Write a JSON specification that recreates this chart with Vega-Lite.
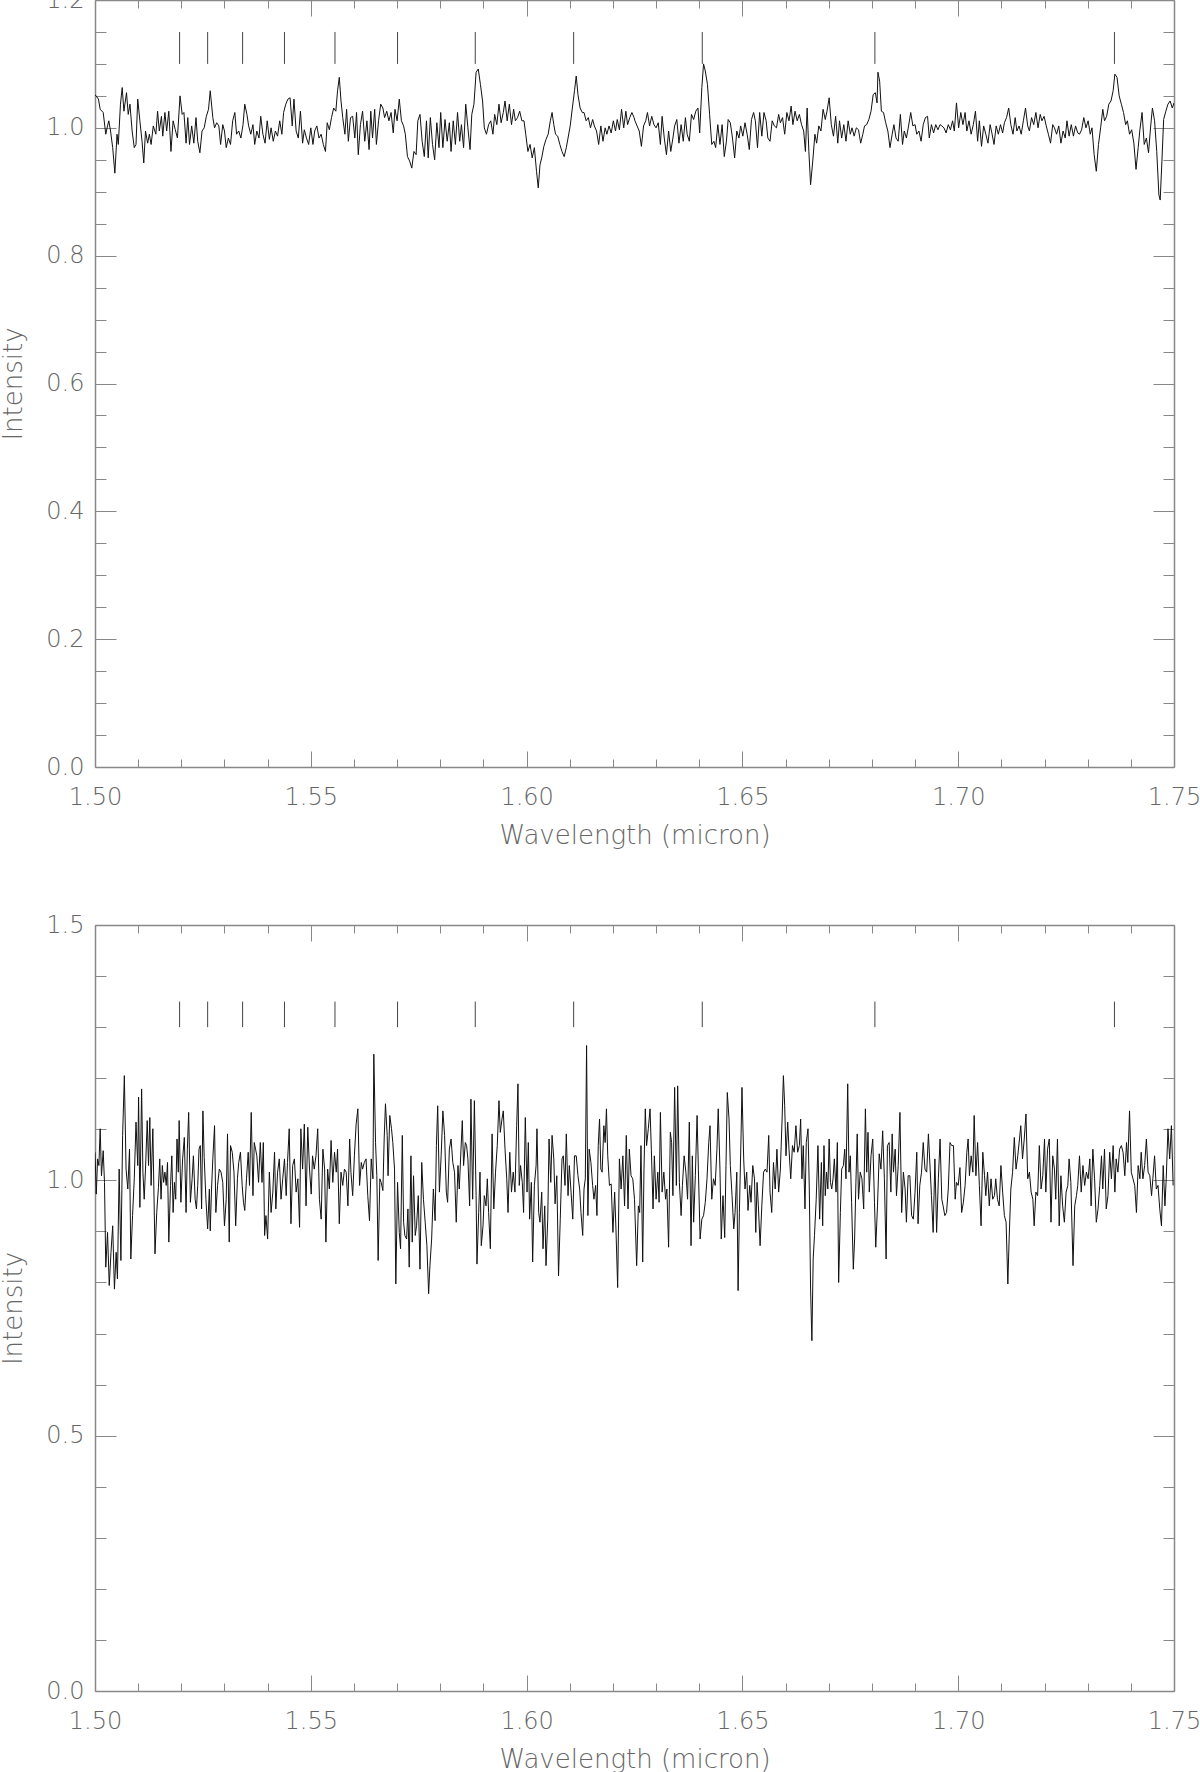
{
"$schema": "https://vega.github.io/schema/vega-lite/v6.json",
"padding": {"left": 0, "top": -12, "right": 0, "bottom": 0},
"spacing": 65,
"config": {
  "view": {"stroke": null},
  "font": "DejaVu Sans",
  "axis": {"grid": false, "domainColor": "#888", "domainWidth": 1.5, "tickColor": "#888", "tickWidth": 1, "labelColor": "#666", "labelFont": "DejaVu Sans", "labelFontWeight": 200, "labelFontSize": 24, "titleColor": "#666", "titleFont": "DejaVu Sans", "titleFontWeight": 200, "titleFontSize": 26, "labelFlush": false, "labelOverlap": false, "labelBound": false}
},
"datasets": {
"lines": [{"w":1.5196},{"w":1.5261},{"w":1.5342},{"w":1.5439},{"w":1.5556},{"w":1.5701},{"w":1.5881},{"w":1.6109},{"w":1.6407},{"w":1.6807},{"w":1.7362}],
"top": [
{"w":1.5000,"f":1.052},{"w":1.5008,"f":1.045},{"w":1.5012,"f":1.029},{"w":1.5019,"f":1.024},{"w":1.5025,"f":0.990},{"w":1.5029,"f":1.003},{"w":1.5032,"f":1.011},{"w":1.5036,"f":0.995},{"w":1.5041,"f":0.969},{"w":1.5046,"f":0.929},{"w":1.5051,"f":0.990},{"w":1.5054,"f":0.974},{"w":1.5059,"f":1.037},{"w":1.5063,"f":1.063},{"w":1.5067,"f":1.026},{"w":1.5073,"f":1.055},{"w":1.5077,"f":1.021},{"w":1.5081,"f":1.037},{"w":1.5086,"f":0.995},{"w":1.5091,"f":0.969},{"w":1.5095,"f":0.974},{"w":1.5099,"f":1.045},{"w":1.5104,"f":1.011},{"w":1.5109,"f":0.979},{"w":1.5113,"f":0.945},{"w":1.5117,"f":0.995},{"w":1.5122,"f":0.976},{"w":1.5126,"f":0.990},{"w":1.5130,"f":0.974},{"w":1.5135,"f":1.003},{"w":1.5141,"f":0.990},{"w":1.5145,"f":1.026},{"w":1.5149,"f":0.995},{"w":1.5154,"f":1.018},{"w":1.5157,"f":0.987},{"w":1.5162,"f":1.024},{"w":1.5166,"f":0.995},{"w":1.5171,"f":1.026},{"w":1.5176,"f":0.963},{"w":1.5181,"f":1.011},{"w":1.5186,"f":0.997},{"w":1.5191,"f":0.984},{"w":1.5197,"f":1.050},{"w":1.5202,"f":1.021},{"w":1.5206,"f":1.024},{"w":1.5211,"f":0.976},{"w":1.5215,"f":1.016},{"w":1.5219,"f":0.974},{"w":1.5224,"f":1.003},{"w":1.5229,"f":0.976},{"w":1.5234,"f":1.016},{"w":1.5238,"f":0.979},{"w":1.5243,"f":0.961},{"w":1.5248,"f":0.995},{"w":1.5253,"f":1.000},{"w":1.5258,"f":1.018},{"w":1.5263,"f":1.029},{"w":1.5267,"f":1.058},{"w":1.5273,"f":1.016},{"w":1.5277,"f":1.000},{"w":1.5282,"f":1.008},{"w":1.5287,"f":1.003},{"w":1.5291,"f":0.974},{"w":1.5296,"f":1.005},{"w":1.5300,"f":0.995},{"w":1.5304,"f":0.969},{"w":1.5309,"f":0.984},{"w":1.5314,"f":0.974},{"w":1.5319,"f":1.011},{"w":1.5324,"f":1.024},{"w":1.5328,"f":0.990},{"w":1.5333,"f":0.995},{"w":1.5338,"f":0.984},{"w":1.5343,"f":1.005},{"w":1.5347,"f":1.037},{"w":1.5352,"f":1.021},{"w":1.5356,"f":1.003},{"w":1.5361,"f":0.990},{"w":1.5366,"f":1.005},{"w":1.5370,"f":0.974},{"w":1.5375,"f":0.995},{"w":1.5380,"f":0.984},{"w":1.5384,"f":1.018},{"w":1.5389,"f":0.990},{"w":1.5394,"f":0.976},{"w":1.5399,"f":1.011},{"w":1.5404,"f":0.982},{"w":1.5408,"f":1.000},{"w":1.5413,"f":0.979},{"w":1.5418,"f":0.995},{"w":1.5423,"f":0.987},{"w":1.5428,"f":1.011},{"w":1.5433,"f":0.990},{"w":1.5437,"f":1.024},{"w":1.5442,"f":1.037},{"w":1.5447,"f":1.045},{"w":1.5452,"f":1.047},{"w":1.5457,"f":1.003},{"w":1.5461,"f":1.045},{"w":1.5466,"f":0.995},{"w":1.5471,"f":0.984},{"w":1.5476,"f":1.026},{"w":1.5481,"f":0.976},{"w":1.5485,"f":0.997},{"w":1.5490,"f":0.984},{"w":1.5495,"f":0.974},{"w":1.5500,"f":1.000},{"w":1.5505,"f":0.974},{"w":1.5509,"f":0.995},{"w":1.5514,"f":1.003},{"w":1.5519,"f":0.984},{"w":1.5524,"f":0.990},{"w":1.5529,"f":0.974},{"w":1.5534,"f":0.963},{"w":1.5538,"f":1.008},{"w":1.5543,"f":0.997},{"w":1.5548,"f":1.016},{"w":1.5553,"f":1.031},{"w":1.5558,"f":1.026},{"w":1.5562,"f":1.058},{"w":1.5566,"f":1.079},{"w":1.5570,"f":1.042},{"w":1.5574,"f":1.016},{"w":1.5579,"f":0.990},{"w":1.5583,"f":1.029},{"w":1.5587,"f":0.979},{"w":1.5592,"f":1.016},{"w":1.5597,"f":1.018},{"w":1.5602,"f":0.984},{"w":1.5606,"f":1.024},{"w":1.5610,"f":0.958},{"w":1.5615,"f":1.005},{"w":1.5620,"f":1.026},{"w":1.5625,"f":0.979},{"w":1.5630,"f":1.011},{"w":1.5635,"f":0.966},{"w":1.5639,"f":1.026},{"w":1.5643,"f":0.984},{"w":1.5648,"f":1.029},{"w":1.5652,"f":0.974},{"w":1.5657,"f":1.011},{"w":1.5662,"f":1.037},{"w":1.5667,"f":1.031},{"w":1.5671,"f":1.016},{"w":1.5676,"f":1.026},{"w":1.5681,"f":1.011},{"w":1.5686,"f":1.024},{"w":1.5691,"f":0.992},{"w":1.5695,"f":1.029},{"w":1.5700,"f":1.011},{"w":1.5705,"f":1.045},{"w":1.5710,"f":1.011},{"w":1.5715,"f":1.003},{"w":1.5719,"f":0.990},{"w":1.5724,"f":0.955},{"w":1.5729,"f":0.948},{"w":1.5734,"f":0.937},{"w":1.5739,"f":0.963},{"w":1.5744,"f":0.958},{"w":1.5748,"f":1.011},{"w":1.5753,"f":1.021},{"w":1.5758,"f":0.979},{"w":1.5763,"f":0.955},{"w":1.5768,"f":1.011},{"w":1.5772,"f":0.953},{"w":1.5777,"f":1.016},{"w":1.5782,"f":0.974},{"w":1.5787,"f":0.950},{"w":1.5792,"f":1.008},{"w":1.5797,"f":0.969},{"w":1.5801,"f":1.024},{"w":1.5806,"f":0.969},{"w":1.5811,"f":1.013},{"w":1.5816,"f":0.979},{"w":1.5821,"f":1.008},{"w":1.5825,"f":0.963},{"w":1.5830,"f":1.011},{"w":1.5835,"f":0.974},{"w":1.5840,"f":1.024},{"w":1.5845,"f":0.979},{"w":1.5849,"f":1.005},{"w":1.5854,"f":0.969},{"w":1.5859,"f":1.037},{"w":1.5864,"f":1.000},{"w":1.5869,"f":0.966},{"w":1.5873,"f":1.021},{"w":1.5878,"f":1.037},{"w":1.5883,"f":1.087},{"w":1.5888,"f":1.092},{"w":1.5893,"f":1.068},{"w":1.5898,"f":1.042},{"w":1.5902,"f":1.000},{"w":1.5907,"f":0.990},{"w":1.5912,"f":1.005},{"w":1.5917,"f":1.011},{"w":1.5922,"f":0.990},{"w":1.5926,"f":1.021},{"w":1.5931,"f":1.005},{"w":1.5936,"f":1.037},{"w":1.5941,"f":1.008},{"w":1.5946,"f":1.024},{"w":1.5950,"f":1.042},{"w":1.5955,"f":1.011},{"w":1.5960,"f":1.037},{"w":1.5965,"f":1.005},{"w":1.5970,"f":1.029},{"w":1.5974,"f":1.011},{"w":1.5979,"f":1.016},{"w":1.5984,"f":1.026},{"w":1.5989,"f":1.011},{"w":1.5994,"f":1.011},{"w":1.5998,"f":0.990},{"w":1.6003,"f":0.963},{"w":1.6008,"f":0.974},{"w":1.6013,"f":0.953},{"w":1.6018,"f":0.969},{"w":1.6023,"f":0.932},{"w":1.6027,"f":0.906},{"w":1.6031,"f":0.942},{"w":1.6035,"f":0.953},{"w":1.6040,"f":0.971},{"w":1.6045,"f":0.982},{"w":1.6050,"f":0.990},{"w":1.6055,"f":1.011},{"w":1.6059,"f":1.024},{"w":1.6063,"f":1.005},{"w":1.6067,"f":0.990},{"w":1.6072,"f":0.987},{"w":1.6077,"f":0.974},{"w":1.6082,"f":0.963},{"w":1.6087,"f":0.955},{"w":1.6092,"f":0.969},{"w":1.6096,"f":0.984},{"w":1.6101,"f":1.003},{"w":1.6106,"f":1.031},{"w":1.6111,"f":1.058},{"w":1.6115,"f":1.081},{"w":1.6119,"f":1.052},{"w":1.6124,"f":1.031},{"w":1.6129,"f":1.024},{"w":1.6133,"f":1.024},{"w":1.6138,"f":1.011},{"w":1.6143,"f":1.016},{"w":1.6148,"f":1.000},{"w":1.6153,"f":1.013},{"w":1.6157,"f":1.003},{"w":1.6162,"f":0.995},{"w":1.6167,"f":0.974},{"w":1.6172,"f":1.003},{"w":1.6177,"f":0.979},{"w":1.6182,"f":1.000},{"w":1.6186,"f":0.990},{"w":1.6191,"f":1.003},{"w":1.6196,"f":0.992},{"w":1.6201,"f":1.011},{"w":1.6206,"f":0.995},{"w":1.6210,"f":1.013},{"w":1.6215,"f":0.997},{"w":1.6220,"f":1.029},{"w":1.6225,"f":1.000},{"w":1.6230,"f":1.026},{"w":1.6234,"f":1.005},{"w":1.6239,"f":1.016},{"w":1.6244,"f":1.024},{"w":1.6249,"f":1.016},
{"w":1.6251,"f":1.011},{"w":1.6256,"f":1.003},{"w":1.6261,"f":0.995},{"w":1.6266,"f":0.971},{"w":1.6271,"f":1.003},{"w":1.6276,"f":1.011},{"w":1.6280,"f":1.024},{"w":1.6285,"f":1.003},{"w":1.6290,"f":1.018},{"w":1.6295,"f":1.005},{"w":1.6300,"f":1.000},{"w":1.6305,"f":1.008},{"w":1.6310,"f":0.974},{"w":1.6314,"f":1.018},{"w":1.6319,"f":0.984},{"w":1.6324,"f":0.958},{"w":1.6329,"f":0.995},{"w":1.6334,"f":0.963},{"w":1.6339,"f":0.984},{"w":1.6343,"f":1.003},{"w":1.6348,"f":1.013},{"w":1.6353,"f":0.976},{"w":1.6358,"f":1.005},{"w":1.6363,"f":0.979},{"w":1.6368,"f":1.016},{"w":1.6372,"f":0.990},{"w":1.6377,"f":0.979},{"w":1.6382,"f":1.021},{"w":1.6387,"f":1.013},{"w":1.6392,"f":1.026},{"w":1.6397,"f":1.031},{"w":1.6401,"f":0.992},{"w":1.6406,"f":1.063},{"w":1.6410,"f":1.100},{"w":1.6414,"f":1.089},{"w":1.6419,"f":1.068},{"w":1.6424,"f":1.021},{"w":1.6429,"f":0.974},{"w":1.6434,"f":0.979},{"w":1.6438,"f":0.969},{"w":1.6443,"f":1.005},{"w":1.6448,"f":0.974},{"w":1.6453,"f":1.005},{"w":1.6458,"f":0.955},{"w":1.6463,"f":0.979},{"w":1.6467,"f":1.013},{"w":1.6472,"f":1.008},{"w":1.6477,"f":0.984},{"w":1.6482,"f":0.953},{"w":1.6487,"f":0.995},{"w":1.6492,"f":0.984},{"w":1.6496,"f":1.003},{"w":1.6501,"f":0.987},{"w":1.6506,"f":1.008},{"w":1.6511,"f":0.990},{"w":1.6516,"f":0.966},{"w":1.6521,"f":1.013},{"w":1.6526,"f":1.024},{"w":1.6530,"f":1.011},{"w":1.6535,"f":0.969},{"w":1.6540,"f":1.024},{"w":1.6545,"f":0.987},{"w":1.6550,"f":1.024},{"w":1.6555,"f":1.011},{"w":1.6559,"f":0.984},{"w":1.6564,"f":0.979},{"w":1.6569,"f":1.011},{"w":1.6574,"f":1.003},{"w":1.6579,"f":1.000},{"w":1.6584,"f":1.021},{"w":1.6588,"f":1.008},{"w":1.6593,"f":1.016},{"w":1.6598,"f":0.990},{"w":1.6603,"f":1.024},{"w":1.6608,"f":1.011},{"w":1.6613,"f":1.034},{"w":1.6617,"f":1.005},{"w":1.6622,"f":1.026},{"w":1.6627,"f":1.011},{"w":1.6632,"f":1.021},{"w":1.6637,"f":1.005},{"w":1.6642,"f":0.995},{"w":1.6646,"f":0.963},{"w":1.6650,"f":1.031},{"w":1.6654,"f":0.963},{"w":1.6658,"f":0.911},{"w":1.6663,"f":0.948},{"w":1.6668,"f":0.990},{"w":1.6672,"f":0.976},{"w":1.6677,"f":1.003},{"w":1.6682,"f":0.995},{"w":1.6687,"f":1.029},{"w":1.6692,"f":1.013},{"w":1.6696,"f":1.026},{"w":1.6701,"f":1.047},{"w":1.6706,"f":1.005},{"w":1.6711,"f":0.987},{"w":1.6716,"f":1.018},{"w":1.6721,"f":0.976},{"w":1.6725,"f":1.011},{"w":1.6730,"f":0.984},{"w":1.6735,"f":1.005},{"w":1.6740,"f":0.979},{"w":1.6745,"f":1.011},{"w":1.6750,"f":0.990},{"w":1.6754,"f":1.000},{"w":1.6759,"f":0.987},{"w":1.6764,"f":1.000},{"w":1.6769,"f":0.997},{"w":1.6774,"f":0.976},{"w":1.6779,"f":0.990},{"w":1.6783,"f":1.003},{"w":1.6788,"f":1.005},{"w":1.6793,"f":1.013},{"w":1.6798,"f":1.026},{"w":1.6803,"f":1.052},{"w":1.6808,"f":1.055},{"w":1.6812,"f":1.039},{"w":1.6814,"f":1.087},{"w":1.6818,"f":1.073},{"w":1.6822,"f":1.026},{"w":1.6827,"f":1.024},{"w":1.6832,"f":1.008},{"w":1.6837,"f":0.995},{"w":1.6842,"f":0.969},{"w":1.6847,"f":0.990},{"w":1.6851,"f":1.005},{"w":1.6856,"f":0.984},{"w":1.6861,"f":0.979},{"w":1.6866,"f":1.021},{"w":1.6871,"f":0.974},{"w":1.6875,"f":0.995},{"w":1.6880,"f":0.984},{"w":1.6885,"f":1.003},{"w":1.6890,"f":1.024},{"w":1.6895,"f":1.003},{"w":1.6900,"f":1.005},{"w":1.6904,"f":0.990},{"w":1.6909,"f":0.995},{"w":1.6914,"f":0.979},{"w":1.6919,"f":1.005},{"w":1.6924,"f":1.016},{"w":1.6929,"f":1.018},{"w":1.6933,"f":0.984},{"w":1.6938,"f":1.005},{"w":1.6943,"f":0.992},{"w":1.6948,"f":1.005},{"w":1.6953,"f":0.997},{"w":1.6958,"f":1.005},{"w":1.6962,"f":1.003},{"w":1.6967,"f":1.000},{"w":1.6972,"f":0.992},{"w":1.6977,"f":1.005},{"w":1.6982,"f":0.997},{"w":1.6987,"f":1.011},{"w":1.6991,"f":0.995},{"w":1.6996,"f":1.039},{"w":1.7001,"f":1.000},{"w":1.7006,"f":1.024},{"w":1.7011,"f":1.005},{"w":1.7016,"f":1.024},{"w":1.7020,"f":0.995},{"w":1.7025,"f":1.011},{"w":1.7030,"f":0.990},{"w":1.7035,"f":1.005},{"w":1.7040,"f":1.026},{"w":1.7045,"f":0.979},{"w":1.7049,"f":1.011},{"w":1.7054,"f":0.971},{"w":1.7059,"f":1.003},{"w":1.7064,"f":0.990},{"w":1.7069,"f":0.976},{"w":1.7074,"f":1.005},{"w":1.7078,"f":0.992},{"w":1.7083,"f":0.974},{"w":1.7088,"f":1.003},{"w":1.7093,"f":0.990},{"w":1.7098,"f":1.005},{"w":1.7103,"f":0.992},{"w":1.7107,"f":1.008},{"w":1.7112,"f":1.016},{"w":1.7117,"f":1.031},{"w":1.7122,"f":1.005},{"w":1.7127,"f":0.990},{"w":1.7132,"f":1.016},{"w":1.7136,"f":0.995},{"w":1.7141,"f":1.003},{"w":1.7146,"f":0.990},{"w":1.7151,"f":1.011},{"w":1.7156,"f":1.031},{"w":1.7161,"f":1.003},{"w":1.7165,"f":0.995},{"w":1.7170,"f":1.016},{"w":1.7175,"f":1.005},{"w":1.7180,"f":1.024},{"w":1.7185,"f":1.000},{"w":1.7190,"f":1.021},{"w":1.7194,"f":1.011},{"w":1.7199,"f":1.018},{"w":1.7204,"f":1.003},{"w":1.7209,"f":0.990},{"w":1.7214,"f":0.976},{"w":1.7219,"f":1.005},{"w":1.7223,"f":1.000},{"w":1.7228,"f":0.990},{"w":1.7233,"f":1.003},{"w":1.7238,"f":0.976},{"w":1.7243,"f":0.995},{"w":1.7248,"f":0.984},{"w":1.7252,"f":1.011},{"w":1.7257,"f":0.987},{"w":1.7262,"f":1.005},{"w":1.7267,"f":0.987},{"w":1.7272,"f":1.003},{"w":1.7277,"f":0.992},{"w":1.7281,"f":0.990},{"w":1.7286,"f":0.997},{"w":1.7291,"f":1.016},{"w":1.7296,"f":1.000},{"w":1.7301,"f":1.011},{"w":1.7306,"f":0.990},{"w":1.7310,"f":1.000},{"w":1.7315,"f":0.958},{"w":1.7320,"f":0.932},{"w":1.7325,"f":0.974},{"w":1.7330,"f":1.000},{"w":1.7335,"f":1.029},{"w":1.7339,"f":1.011},{"w":1.7344,"f":1.018},{"w":1.7349,"f":1.037},{"w":1.7354,"f":1.042},{"w":1.7359,"f":1.058},{"w":1.7363,"f":1.084},{"w":1.7368,"f":1.079},{"w":1.7373,"f":1.050},{"w":1.7378,"f":1.037},{"w":1.7383,"f":1.024},{"w":1.7388,"f":1.005},{"w":1.7392,"f":1.011},{"w":1.7397,"f":0.990},{"w":1.7402,"f":0.997},{"w":1.7407,"f":0.976},{"w":1.7412,"f":0.935},{"w":1.7417,"f":0.969},{"w":1.7421,"f":0.997},{"w":1.7426,"f":1.024},{"w":1.7431,"f":0.974},{"w":1.7436,"f":0.984},{"w":1.7441,"f":0.961},{"w":1.7446,"f":1.003},{"w":1.7450,"f":1.031},{"w":1.7455,"f":1.011},{"w":1.7460,"f":0.963},{"w":1.7465,"f":0.895},{"w":1.7468,"f":0.887},{"w":1.7472,"f":0.948},{"w":1.7476,"f":1.013},{"w":1.7481,"f":1.026},{"w":1.7486,"f":1.037},{"w":1.7491,"f":1.042},{"w":1.7496,"f":1.031},{"w":1.7500,"f":1.039}
],
"bot": [
{"w":1.5000,"f":1.055},{"w":1.5003,"f":0.973},{"w":1.5006,"f":1.042},{"w":1.5009,"f":1.029},{"w":1.5012,"f":1.101},{"w":1.5015,"f":1.009},{"w":1.5019,"f":1.058},{"w":1.5022,"f":0.996},{"w":1.5025,"f":0.830},{"w":1.5029,"f":0.898},{"w":1.5033,"f":0.794},{"w":1.5037,"f":0.859},{"w":1.5041,"f":0.911},{"w":1.5045,"f":0.787},{"w":1.5049,"f":0.859},{"w":1.5052,"f":0.807},{"w":1.5056,"f":1.022},{"w":1.5060,"f":0.843},{"w":1.5064,"f":1.088},{"w":1.5068,"f":1.205},{"w":1.5072,"f":1.022},{"w":1.5076,"f":0.983},{"w":1.5080,"f":1.061},{"w":1.5083,"f":0.846},{"w":1.5087,"f":0.931},{"w":1.5091,"f":1.003},{"w":1.5095,"f":1.114},{"w":1.5099,"f":1.029},{"w":1.5101,"f":1.163},{"w":1.5104,"f":0.947},{"w":1.5108,"f":1.179},{"w":1.5111,"f":1.016},{"w":1.5114,"f":0.963},{"w":1.5117,"f":1.022},{"w":1.5121,"f":1.117},{"w":1.5124,"f":1.029},{"w":1.5127,"f":1.123},{"w":1.5130,"f":0.990},{"w":1.5134,"f":1.101},{"w":1.5139,"f":0.856},{"w":1.5143,"f":0.937},{"w":1.5147,"f":0.986},{"w":1.5150,"f":1.042},{"w":1.5153,"f":0.963},{"w":1.5156,"f":1.029},{"w":1.5159,"f":0.996},{"w":1.5162,"f":1.016},{"w":1.5165,"f":0.990},{"w":1.5168,"f":1.035},{"w":1.5171,"f":0.879},{"w":1.5175,"f":0.990},{"w":1.5178,"f":1.048},{"w":1.5181,"f":0.937},{"w":1.5184,"f":0.996},{"w":1.5187,"f":0.963},{"w":1.5190,"f":1.081},{"w":1.5193,"f":1.016},{"w":1.5195,"f":1.117},{"w":1.5199,"f":0.957},{"w":1.5203,"f":1.042},{"w":1.5207,"f":1.084},{"w":1.5211,"f":0.937},{"w":1.5214,"f":1.061},{"w":1.5217,"f":1.133},{"w":1.5221,"f":0.957},{"w":1.5225,"f":1.003},{"w":1.5228,"f":1.048},{"w":1.5232,"f":0.963},{"w":1.5235,"f":0.944},{"w":1.5238,"f":0.990},{"w":1.5241,"f":1.061},{"w":1.5244,"f":1.068},{"w":1.5247,"f":0.944},{"w":1.5250,"f":1.136},{"w":1.5253,"f":1.045},{"w":1.5257,"f":0.963},{"w":1.5261,"f":0.905},{"w":1.5265,"f":0.983},{"w":1.5267,"f":0.901},{"w":1.5270,"f":0.983},{"w":1.5273,"f":1.042},{"w":1.5277,"f":1.107},{"w":1.5280,"f":0.937},{"w":1.5284,"f":0.990},{"w":1.5288,"f":1.022},{"w":1.5292,"f":1.016},{"w":1.5296,"f":0.996},{"w":1.5300,"f":0.911},{"w":1.5304,"f":0.963},{"w":1.5307,"f":1.091},{"w":1.5311,"f":0.879},{"w":1.5314,"f":1.068},{"w":1.5318,"f":1.055},{"w":1.5322,"f":1.016},{"w":1.5326,"f":0.911},{"w":1.5330,"f":1.003},{"w":1.5333,"f":1.035},{"w":1.5337,"f":1.055},{"w":1.5341,"f":0.990},{"w":1.5344,"f":0.957},{"w":1.5347,"f":0.941},{"w":1.5351,"f":1.003},{"w":1.5355,"f":1.055},{"w":1.5358,"f":0.990},{"w":1.5362,"f":1.133},{"w":1.5366,"f":0.970},{"w":1.5369,"f":1.074},{"w":1.5372,"f":1.061},{"w":1.5375,"f":1.048},{"w":1.5379,"f":0.996},{"w":1.5383,"f":1.074},{"w":1.5387,"f":0.996},{"w":1.5390,"f":1.074},{"w":1.5393,"f":0.892},{"w":1.5396,"f":0.931},{"w":1.5400,"f":0.885},{"w":1.5404,"f":1.016},{"w":1.5408,"f":0.937},{"w":1.5412,"f":0.977},{"w":1.5416,"f":1.055},{"w":1.5419,"f":0.944},{"w":1.5423,"f":1.016},{"w":1.5427,"f":1.042},{"w":1.5431,"f":0.963},{"w":1.5435,"f":1.003},{"w":1.5439,"f":1.042},{"w":1.5443,"f":0.970},{"w":1.5446,"f":1.035},{"w":1.5450,"f":1.101},{"w":1.5454,"f":0.915},{"w":1.5458,"f":1.029},{"w":1.5462,"f":1.042},{"w":1.5466,"f":0.977},{"w":1.5470,"f":1.003},{"w":1.5474,"f":0.908},{"w":1.5477,"f":1.101},{"w":1.5481,"f":1.022},{"w":1.5485,"f":1.110},{"w":1.5489,"f":0.950},{"w":1.5493,"f":1.104},{"w":1.5497,"f":1.022},{"w":1.5501,"f":0.973},{"w":1.5504,"f":1.048},{"w":1.5508,"f":1.022},{"w":1.5512,"f":1.048},{"w":1.5516,"f":1.101},{"w":1.5520,"f":0.963},{"w":1.5524,"f":0.924},{"w":1.5528,"f":1.061},{"w":1.5532,"f":1.022},{"w":1.5535,"f":0.879},{"w":1.5539,"f":1.022},{"w":1.5543,"f":0.983},{"w":1.5547,"f":1.078},{"w":1.5551,"f":0.996},{"w":1.5555,"f":1.055},{"w":1.5559,"f":1.016},{"w":1.5562,"f":1.061},{"w":1.5566,"f":0.915},{"w":1.5570,"f":1.016},{"w":1.5574,"f":0.990},{"w":1.5578,"f":1.022},{"w":1.5582,"f":1.016},{"w":1.5586,"f":0.950},{"w":1.5590,"f":1.081},{"w":1.5593,"f":1.016},{"w":1.5597,"f":0.970},{"w":1.5601,"f":1.048},{"w":1.5605,"f":1.110},{"w":1.5609,"f":1.140},{"w":1.5613,"f":0.990},{"w":1.5617,"f":1.035},{"w":1.5620,"f":1.022},{"w":1.5624,"f":1.035},{"w":1.5628,"f":1.042},{"w":1.5632,"f":0.970},{"w":1.5636,"f":0.921},{"w":1.5640,"f":1.042},{"w":1.5644,"f":1.003},{"w":1.5646,"f":1.247},{"w":1.5650,"f":1.074},{"w":1.5653,"f":1.009},{"w":1.5656,"f":0.843},{"w":1.5660,"f":1.003},{"w":1.5663,"f":0.996},{"w":1.5667,"f":0.980},{"w":1.5670,"f":1.081},{"w":1.5673,"f":1.150},{"w":1.5677,"f":1.088},{"w":1.5679,"f":1.009},{"w":1.5683,"f":1.127},{"w":1.5687,"f":1.101},{"w":1.5690,"f":1.074},{"w":1.5694,"f":1.022},{"w":1.5697,"f":0.797},{"w":1.5701,"f":0.996},{"w":1.5705,"f":0.898},{"w":1.5708,"f":0.866},{"w":1.5712,"f":1.088},{"w":1.5715,"f":0.918},{"w":1.5718,"f":0.892},{"w":1.5722,"f":0.885},{"w":1.5725,"f":0.944},{"w":1.5728,"f":0.830},{"w":1.5732,"f":1.048},{"w":1.5735,"f":0.879},{"w":1.5738,"f":1.009},{"w":1.5742,"f":0.892},{"w":1.5745,"f":0.911},{"w":1.5749,"f":0.970},{"w":1.5753,"f":0.826},{"w":1.5757,"f":1.035},{"w":1.5761,"f":0.963},{"w":1.5765,"f":0.918},{"w":1.5769,"f":0.872},{"w":1.5773,"f":0.778},{"w":1.5776,"f":0.833},{"w":1.5780,"f":0.885},{"w":1.5784,"f":0.983},{"w":1.5788,"f":0.921},{"w":1.5791,"f":1.068},{"w":1.5794,"f":1.146},{"w":1.5798,"f":0.977},{"w":1.5802,"f":1.048},{"w":1.5806,"f":1.136},{"w":1.5810,"f":1.088},{"w":1.5814,"f":0.977},{"w":1.5817,"f":0.957},{"w":1.5821,"f":1.061},{"w":1.5825,"f":1.081},{"w":1.5829,"f":1.035},{"w":1.5833,"f":1.016},
{"w":1.5837,"f":0.918},{"w":1.5841,"f":1.029},{"w":1.5844,"f":0.983},{"w":1.5848,"f":1.061},{"w":1.5851,"f":1.117},{"w":1.5854,"f":1.029},{"w":1.5858,"f":1.074},{"w":1.5861,"f":1.068},{"w":1.5864,"f":1.042},{"w":1.5868,"f":0.950},{"w":1.5871,"f":1.159},{"w":1.5875,"f":0.963},{"w":1.5879,"f":1.156},{"w":1.5883,"f":0.970},{"w":1.5885,"f":0.836},{"w":1.5889,"f":0.937},{"w":1.5892,"f":1.016},{"w":1.5895,"f":0.872},{"w":1.5899,"f":0.911},{"w":1.5902,"f":0.970},{"w":1.5906,"f":0.950},{"w":1.5909,"f":1.003},{"w":1.5912,"f":0.937},{"w":1.5916,"f":0.866},{"w":1.5920,"f":1.091},{"w":1.5924,"f":0.944},{"w":1.5928,"f":1.016},{"w":1.5932,"f":1.068},{"w":1.5936,"f":1.156},{"w":1.5939,"f":1.094},{"w":1.5943,"f":1.120},{"w":1.5946,"f":1.136},{"w":1.5950,"f":1.061},{"w":1.5954,"f":1.003},{"w":1.5957,"f":0.937},{"w":1.5961,"f":1.055},{"w":1.5965,"f":0.977},{"w":1.5969,"f":1.016},{"w":1.5973,"f":0.977},{"w":1.5977,"f":1.107},{"w":1.5980,"f":1.189},{"w":1.5983,"f":0.990},{"w":1.5986,"f":1.029},{"w":1.5990,"f":0.996},{"w":1.5993,"f":0.937},{"w":1.5997,"f":1.123},{"w":1.6001,"f":0.977},{"w":1.6004,"f":1.074},{"w":1.6007,"f":0.924},{"w":1.6011,"f":0.996},{"w":1.6014,"f":0.840},{"w":1.6018,"f":0.990},{"w":1.6022,"f":1.029},{"w":1.6024,"f":1.101},{"w":1.6028,"f":0.937},{"w":1.6031,"f":0.918},{"w":1.6035,"f":0.977},{"w":1.6038,"f":0.866},{"w":1.6042,"f":0.950},{"w":1.6045,"f":0.833},{"w":1.6049,"f":0.924},{"w":1.6052,"f":1.081},{"w":1.6056,"f":0.996},{"w":1.6059,"f":1.088},{"w":1.6063,"f":1.042},{"w":1.6066,"f":0.954},{"w":1.6070,"f":1.009},{"w":1.6074,"f":0.813},{"w":1.6078,"f":0.924},{"w":1.6082,"f":1.042},{"w":1.6085,"f":1.048},{"w":1.6089,"f":0.990},{"w":1.6092,"f":1.091},{"w":1.6096,"f":0.970},{"w":1.6099,"f":1.029},{"w":1.6103,"f":0.977},{"w":1.6107,"f":0.924},{"w":1.6111,"f":1.048},{"w":1.6115,"f":1.048},{"w":1.6119,"f":1.009},{"w":1.6123,"f":0.983},{"w":1.6126,"f":0.937},{"w":1.6130,"f":0.892},{"w":1.6133,"f":0.983},{"w":1.6136,"f":1.003},{"w":1.6139,"f":1.264},{"w":1.6142,"f":0.931},{"w":1.6145,"f":1.061},{"w":1.6149,"f":1.035},{"w":1.6153,"f":0.990},{"w":1.6156,"f":0.963},{"w":1.6160,"f":0.990},{"w":1.6163,"f":0.931},{"w":1.6166,"f":1.068},{"w":1.6169,"f":1.120},{"w":1.6172,"f":1.022},{"w":1.6175,"f":1.016},{"w":1.6179,"f":1.107},{"w":1.6182,"f":1.074},{"w":1.6185,"f":1.140},{"w":1.6188,"f":1.048},{"w":1.6192,"f":0.990},{"w":1.6196,"f":0.993},{"w":1.6200,"f":0.898},{"w":1.6204,"f":0.977},{"w":1.6207,"f":0.905},{"w":1.6211,"f":0.790},{"w":1.6215,"f":1.042},{"w":1.6219,"f":0.983},{"w":1.6223,"f":1.048},{"w":1.6227,"f":0.950},{"w":1.6231,"f":1.088},{"w":1.6235,"f":0.944},{"w":1.6238,"f":1.061},{"w":1.6242,"f":1.009},{"w":1.6246,"f":1.003},{"w":1.6250,"f":0.963},{"w":1.6255,"f":0.833},{"w":1.6259,"f":0.950},{"w":1.6262,"f":0.937},{"w":1.6265,"f":1.068},{"w":1.6269,"f":0.840},{"w":1.6272,"f":1.022},{"w":1.6275,"f":1.140},{"w":1.6278,"f":1.068},{"w":1.6282,"f":1.101},{"w":1.6286,"f":1.140},{"w":1.6289,"f":1.061},{"w":1.6293,"f":0.944},{"w":1.6296,"f":1.048},{"w":1.6300,"f":0.963},{"w":1.6304,"f":1.016},{"w":1.6307,"f":0.957},{"w":1.6310,"f":1.133},{"w":1.6314,"f":0.977},{"w":1.6318,"f":1.016},{"w":1.6322,"f":0.963},{"w":1.6325,"f":0.983},{"w":1.6329,"f":0.869},{"w":1.6333,"f":1.094},{"w":1.6336,"f":1.074},{"w":1.6339,"f":0.970},{"w":1.6343,"f":1.182},{"w":1.6347,"f":0.990},{"w":1.6350,"f":1.185},{"w":1.6354,"f":0.996},{"w":1.6358,"f":0.931},{"w":1.6361,"f":0.990},{"w":1.6365,"f":1.048},{"w":1.6369,"f":1.016},{"w":1.6373,"f":0.963},{"w":1.6377,"f":1.114},{"w":1.6381,"f":0.872},{"w":1.6384,"f":1.048},{"w":1.6387,"f":0.918},{"w":1.6391,"f":1.009},{"w":1.6395,"f":1.127},{"w":1.6398,"f":1.022},{"w":1.6402,"f":0.885},{"w":1.6406,"f":0.924},{"w":1.6410,"f":0.931},{"w":1.6414,"f":0.957},{"w":1.6418,"f":1.003},{"w":1.6422,"f":1.074},{"w":1.6425,"f":1.107},{"w":1.6429,"f":0.963},{"w":1.6433,"f":1.003},{"w":1.6437,"f":0.990},{"w":1.6441,"f":1.061},{"w":1.6444,"f":1.140},{"w":1.6448,"f":1.022},{"w":1.6451,"f":0.885},{"w":1.6455,"f":0.970},{"w":1.6459,"f":0.888},{"w":1.6462,"f":1.029},{"w":1.6465,"f":1.172},{"w":1.6469,"f":1.120},{"w":1.6472,"f":1.029},{"w":1.6476,"f":0.970},{"w":1.6480,"f":0.905},{"w":1.6483,"f":0.937},{"w":1.6487,"f":1.016},{"w":1.6490,"f":0.784},{"w":1.6493,"f":0.937},{"w":1.6497,"f":1.091},{"w":1.6499,"f":1.182},{"w":1.6503,"f":1.042},{"w":1.6506,"f":0.983},{"w":1.6510,"f":1.016},{"w":1.6513,"f":0.941},{"w":1.6517,"f":0.990},{"w":1.6520,"f":0.957},{"w":1.6524,"f":1.029},{"w":1.6528,"f":1.003},{"w":1.6531,"f":0.898},{"w":1.6534,"f":0.996},{"w":1.6537,"f":0.950},{"w":1.6541,"f":0.872},{"w":1.6545,"f":0.950},{"w":1.6549,"f":1.016},{"w":1.6553,"f":1.022},{"w":1.6557,"f":1.016},{"w":1.6561,"f":1.088},{"w":1.6564,"f":0.977},{"w":1.6568,"f":0.937},{"w":1.6572,"f":1.035},{"w":1.6576,"f":0.983},{"w":1.6580,"f":1.061},{"w":1.6584,"f":0.977},{"w":1.6588,"f":1.022},{"w":1.6592,"f":1.120},{"w":1.6595,"f":1.205},{"w":1.6598,"f":1.146},{"w":1.6601,"f":1.048},{"w":1.6605,"f":1.114},{"w":1.6608,"f":1.061},{"w":1.6612,"f":1.003},{"w":1.6616,"f":1.068},{"w":1.6620,"f":1.055},{"w":1.6624,"f":1.107},{"w":1.6628,"f":1.055},{"w":1.6632,"f":1.068},{"w":1.6635,"f":1.120},{"w":1.6638,"f":1.003},{"w":1.6641,"f":1.068},{"w":1.6645,"f":0.944},{"w":1.6648,"f":1.074},{"w":1.6652,"f":1.101},{"w":1.6655,"f":0.983},{"w":1.6658,"f":0.787},{"w":1.6661,"f":0.686},{"w":1.6664,"f":0.846},{"w":1.6667,"f":0.892},
{"w":1.6671,"f":0.963},{"w":1.6675,"f":1.068},{"w":1.6679,"f":0.924},{"w":1.6683,"f":1.035},{"w":1.6686,"f":0.911},{"w":1.6689,"f":1.068},{"w":1.6692,"f":0.970},{"w":1.6695,"f":1.016},{"w":1.6698,"f":0.983},{"w":1.6701,"f":1.081},{"w":1.6704,"f":0.996},{"w":1.6707,"f":0.983},{"w":1.6710,"f":1.003},{"w":1.6713,"f":1.042},{"w":1.6717,"f":0.977},{"w":1.6720,"f":1.074},{"w":1.6723,"f":0.800},{"w":1.6727,"f":0.937},{"w":1.6730,"f":1.022},{"w":1.6734,"f":1.029},{"w":1.6737,"f":1.061},{"w":1.6740,"f":1.003},{"w":1.6744,"f":1.189},{"w":1.6747,"f":1.016},{"w":1.6750,"f":1.048},{"w":1.6753,"f":0.957},{"w":1.6757,"f":0.826},{"w":1.6760,"f":0.885},{"w":1.6763,"f":0.996},{"w":1.6766,"f":1.091},{"w":1.6769,"f":0.963},{"w":1.6773,"f":1.016},{"w":1.6777,"f":1.003},{"w":1.6781,"f":0.944},{"w":1.6785,"f":1.140},{"w":1.6788,"f":1.016},{"w":1.6791,"f":1.094},{"w":1.6794,"f":0.977},{"w":1.6798,"f":1.048},{"w":1.6802,"f":1.081},{"w":1.6806,"f":0.957},{"w":1.6809,"f":0.869},{"w":1.6813,"f":0.950},{"w":1.6817,"f":1.052},{"w":1.6821,"f":1.022},{"w":1.6825,"f":1.097},{"w":1.6829,"f":1.003},{"w":1.6833,"f":0.846},{"w":1.6836,"f":1.068},{"w":1.6840,"f":1.074},{"w":1.6844,"f":0.977},{"w":1.6847,"f":1.091},{"w":1.6850,"f":1.016},{"w":1.6854,"f":1.061},{"w":1.6857,"f":0.970},{"w":1.6861,"f":1.029},{"w":1.6865,"f":1.133},{"w":1.6869,"f":0.937},{"w":1.6873,"f":1.016},{"w":1.6877,"f":0.983},{"w":1.6880,"f":0.918},{"w":1.6884,"f":1.009},{"w":1.6888,"f":1.009},{"w":1.6892,"f":0.931},{"w":1.6896,"f":0.924},{"w":1.6900,"f":0.977},{"w":1.6904,"f":1.055},{"w":1.6907,"f":0.915},{"w":1.6911,"f":0.990},{"w":1.6915,"f":1.016},{"w":1.6919,"f":1.074},{"w":1.6923,"f":1.022},{"w":1.6927,"f":1.016},{"w":1.6931,"f":1.091},{"w":1.6935,"f":1.022},{"w":1.6938,"f":0.970},{"w":1.6942,"f":0.898},{"w":1.6946,"f":1.042},{"w":1.6950,"f":0.898},{"w":1.6954,"f":1.003},{"w":1.6958,"f":1.081},{"w":1.6962,"f":0.963},{"w":1.6965,"f":0.950},{"w":1.6969,"f":0.931},{"w":1.6973,"f":0.937},{"w":1.6977,"f":0.983},{"w":1.6981,"f":1.074},{"w":1.6985,"f":1.068},{"w":1.6989,"f":1.068},{"w":1.6993,"f":0.963},{"w":1.6996,"f":0.996},{"w":1.7000,"f":0.990},{"w":1.7004,"f":1.025},{"w":1.7008,"f":0.937},{"w":1.7012,"f":0.957},{"w":1.7016,"f":0.990},{"w":1.7020,"f":1.055},{"w":1.7023,"f":1.081},{"w":1.7026,"f":1.009},{"w":1.7030,"f":1.048},{"w":1.7034,"f":1.016},{"w":1.7037,"f":1.127},{"w":1.7041,"f":1.009},{"w":1.7045,"f":1.074},{"w":1.7049,"f":0.990},{"w":1.7053,"f":0.911},{"w":1.7057,"f":1.055},{"w":1.7061,"f":1.009},{"w":1.7064,"f":0.970},{"w":1.7068,"f":1.016},{"w":1.7072,"f":0.950},{"w":1.7076,"f":1.003},{"w":1.7080,"f":0.963},{"w":1.7084,"f":0.970},{"w":1.7087,"f":1.003},{"w":1.7091,"f":0.963},{"w":1.7095,"f":0.950},{"w":1.7099,"f":1.029},{"w":1.7103,"f":0.977},{"w":1.7107,"f":0.931},{"w":1.7111,"f":0.918},{"w":1.7115,"f":0.797},{"w":1.7118,"f":0.885},{"w":1.7122,"f":0.983},{"w":1.7126,"f":1.016},{"w":1.7130,"f":1.084},{"w":1.7134,"f":1.022},{"w":1.7138,"f":1.048},{"w":1.7142,"f":1.081},{"w":1.7145,"f":1.107},{"w":1.7149,"f":1.042},{"w":1.7153,"f":1.081},{"w":1.7157,"f":1.130},{"w":1.7161,"f":1.003},{"w":1.7165,"f":1.016},{"w":1.7169,"f":0.977},{"w":1.7173,"f":0.963},{"w":1.7176,"f":0.911},{"w":1.7180,"f":0.977},{"w":1.7184,"f":0.970},{"w":1.7188,"f":1.068},{"w":1.7192,"f":0.983},{"w":1.7196,"f":1.009},{"w":1.7200,"f":1.081},{"w":1.7203,"f":0.977},{"w":1.7207,"f":1.061},{"w":1.7211,"f":1.081},{"w":1.7215,"f":0.918},{"w":1.7219,"f":1.048},{"w":1.7223,"f":1.022},{"w":1.7226,"f":0.963},{"w":1.7230,"f":1.081},{"w":1.7234,"f":0.911},{"w":1.7238,"f":1.009},{"w":1.7242,"f":0.950},{"w":1.7246,"f":0.918},{"w":1.7250,"f":0.977},{"w":1.7254,"f":0.990},{"w":1.7257,"f":1.042},{"w":1.7261,"f":0.996},{"w":1.7266,"f":0.833},{"w":1.7270,"f":0.950},{"w":1.7274,"f":0.970},{"w":1.7277,"f":0.990},{"w":1.7281,"f":1.048},{"w":1.7285,"f":0.977},{"w":1.7289,"f":1.029},{"w":1.7293,"f":0.990},{"w":1.7297,"f":1.016},{"w":1.7301,"f":1.003},{"w":1.7305,"f":1.042},{"w":1.7308,"f":0.950},{"w":1.7312,"f":1.061},{"w":1.7316,"f":1.003},{"w":1.7320,"f":0.918},{"w":1.7324,"f":0.944},{"w":1.7328,"f":0.990},{"w":1.7332,"f":1.048},{"w":1.7335,"f":0.983},{"w":1.7339,"f":1.061},{"w":1.7343,"f":0.944},{"w":1.7347,"f":0.970},{"w":1.7351,"f":1.055},{"w":1.7355,"f":1.003},{"w":1.7359,"f":1.068},{"w":1.7363,"f":0.977},{"w":1.7366,"f":1.042},{"w":1.7370,"f":1.016},{"w":1.7374,"f":1.061},{"w":1.7378,"f":1.068},{"w":1.7382,"f":1.055},{"w":1.7386,"f":1.009},{"w":1.7390,"f":1.074},{"w":1.7393,"f":1.035},{"w":1.7397,"f":1.136},{"w":1.7401,"f":1.016},{"w":1.7405,"f":1.003},{"w":1.7409,"f":0.990},{"w":1.7413,"f":0.937},{"w":1.7417,"f":1.029},{"w":1.7421,"f":1.003},{"w":1.7424,"f":1.055},{"w":1.7428,"f":1.003},{"w":1.7432,"f":1.029},{"w":1.7436,"f":1.081},{"w":1.7440,"f":1.016},{"w":1.7444,"f":1.009},{"w":1.7448,"f":0.970},{"w":1.7451,"f":1.003},{"w":1.7455,"f":1.048},{"w":1.7459,"f":0.983},{"w":1.7463,"f":0.990},{"w":1.7467,"f":0.944},{"w":1.7471,"f":0.911},{"w":1.7475,"f":1.029},{"w":1.7479,"f":0.950},{"w":1.7482,"f":1.003},{"w":1.7486,"f":1.101},{"w":1.7490,"f":1.042},{"w":1.7494,"f":1.107},{"w":1.7498,"f":0.990}
]
},
"vconcat": [
{
 "width": 1079, "height": 767,
 "layer": [
  {"data": {"name": "top"}, "mark": {"type": "line", "color": "#111", "strokeWidth": 1, "clip": true},
   "encoding": {
    "x": {"field": "w", "type": "quantitative", "scale": {"domain": [1.5, 1.75], "nice": false, "zero": false},
      "axis": {"orient": "bottom", "title": "Wavelength (micron)", "titlePadding": 5, "labelPadding": 34,
        "values": [1.5,1.51,1.52,1.53,1.54,1.55,1.56,1.57,1.58,1.59,1.6,1.61,1.62,1.63,1.64,1.65,1.66,1.67,1.68,1.69,1.7,1.71,1.72,1.73,1.74,1.75],
        "labelExpr": "abs(datum.value*20-round(datum.value*20))<0.001 ? format(datum.value,'.2f') : ''",
        "tickSize": {"condition": {"test": "abs(datum.value*20-round(datum.value*20))<0.001", "value": -16}, "value": -8}}},
    "y": {"field": "f", "type": "quantitative", "scale": {"domain": [0, 1.2], "nice": false, "zero": false},
      "axis": {"orient": "left", "title": "Intensity", "titlePadding": 19, "labelPadding": 32,
        "values": [0,0.05,0.1,0.15,0.2,0.25,0.3,0.35,0.4,0.45,0.5,0.55,0.6,0.65,0.7,0.75,0.8,0.85,0.9,0.95,1,1.05,1.1,1.15,1.2],
        "labelExpr": "abs(datum.value*5-round(datum.value*5))<0.001 ? format(datum.value,'.1f') : ''",
        "tickSize": {"condition": {"test": "abs(datum.value*5-round(datum.value*5))<0.001", "value": -21}, "value": -11}}}
   }},
  {"data": {"name": "lines"}, "mark": {"type": "rule", "color": "#444", "strokeWidth": 1},
   "encoding": {
    "x": {"field": "w", "type": "quantitative",
      "axis": {"orient": "top", "labels": false, "title": null,
        "values": [1.5,1.51,1.52,1.53,1.54,1.55,1.56,1.57,1.58,1.59,1.6,1.61,1.62,1.63,1.64,1.65,1.66,1.67,1.68,1.69,1.7,1.71,1.72,1.73,1.74,1.75],
        "tickSize": {"condition": {"test": "abs(datum.value*20-round(datum.value*20))<0.001", "value": -16}, "value": -8}}},
    "y": {"datum": 1.1, "type": "quantitative",
      "axis": {"orient": "right", "labels": false, "title": null,
        "values": [0,0.05,0.1,0.15,0.2,0.25,0.3,0.35,0.4,0.45,0.5,0.55,0.6,0.65,0.7,0.75,0.8,0.85,0.9,0.95,1,1.05,1.1,1.15,1.2],
        "tickSize": {"condition": {"test": "abs(datum.value*5-round(datum.value*5))<0.001", "value": -21}, "value": -11}}},
    "y2": {"datum": 1.15}
   }}
 ],
 "resolve": {"axis": {"x": "independent", "y": "independent"}}
},
{
 "width": 1079, "height": 766,
 "layer": [
  {"data": {"name": "bot"}, "mark": {"type": "line", "color": "#111", "strokeWidth": 1, "clip": true},
   "encoding": {
    "x": {"field": "w", "type": "quantitative", "scale": {"domain": [1.5, 1.75], "nice": false, "zero": false},
      "axis": {"orient": "bottom", "title": "Wavelength (micron)", "titlePadding": 5, "labelPadding": 34,
        "values": [1.5,1.51,1.52,1.53,1.54,1.55,1.56,1.57,1.58,1.59,1.6,1.61,1.62,1.63,1.64,1.65,1.66,1.67,1.68,1.69,1.7,1.71,1.72,1.73,1.74,1.75],
        "labelExpr": "abs(datum.value*20-round(datum.value*20))<0.001 ? format(datum.value,'.2f') : ''",
        "tickSize": {"condition": {"test": "abs(datum.value*20-round(datum.value*20))<0.001", "value": -16}, "value": -8}}},
    "y": {"field": "f", "type": "quantitative", "scale": {"domain": [0, 1.5], "nice": false, "zero": false},
      "axis": {"orient": "left", "title": "Intensity", "titlePadding": 19, "labelPadding": 32,
        "values": [0,0.1,0.2,0.3,0.4,0.5,0.6,0.7,0.8,0.9,1,1.1,1.2,1.3,1.4,1.5],
        "labelExpr": "abs(datum.value*2-round(datum.value*2))<0.001 ? format(datum.value,'.1f') : ''",
        "tickSize": {"condition": {"test": "abs(datum.value*2-round(datum.value*2))<0.001", "value": -21}, "value": -11}}}
   }},
  {"data": {"name": "lines"}, "mark": {"type": "rule", "color": "#444", "strokeWidth": 1},
   "encoding": {
    "x": {"field": "w", "type": "quantitative",
      "axis": {"orient": "top", "labels": false, "title": null,
        "values": [1.5,1.51,1.52,1.53,1.54,1.55,1.56,1.57,1.58,1.59,1.6,1.61,1.62,1.63,1.64,1.65,1.66,1.67,1.68,1.69,1.7,1.71,1.72,1.73,1.74,1.75],
        "tickSize": {"condition": {"test": "abs(datum.value*20-round(datum.value*20))<0.001", "value": -16}, "value": -8}}},
    "y": {"datum": 1.3, "type": "quantitative",
      "axis": {"orient": "right", "labels": false, "title": null,
        "values": [0,0.1,0.2,0.3,0.4,0.5,0.6,0.7,0.8,0.9,1,1.1,1.2,1.3,1.4,1.5],
        "tickSize": {"condition": {"test": "abs(datum.value*2-round(datum.value*2))<0.001", "value": -21}, "value": -11}}},
    "y2": {"datum": 1.35}
   }}
 ],
 "resolve": {"axis": {"x": "independent", "y": "independent"}}
}
]
}
